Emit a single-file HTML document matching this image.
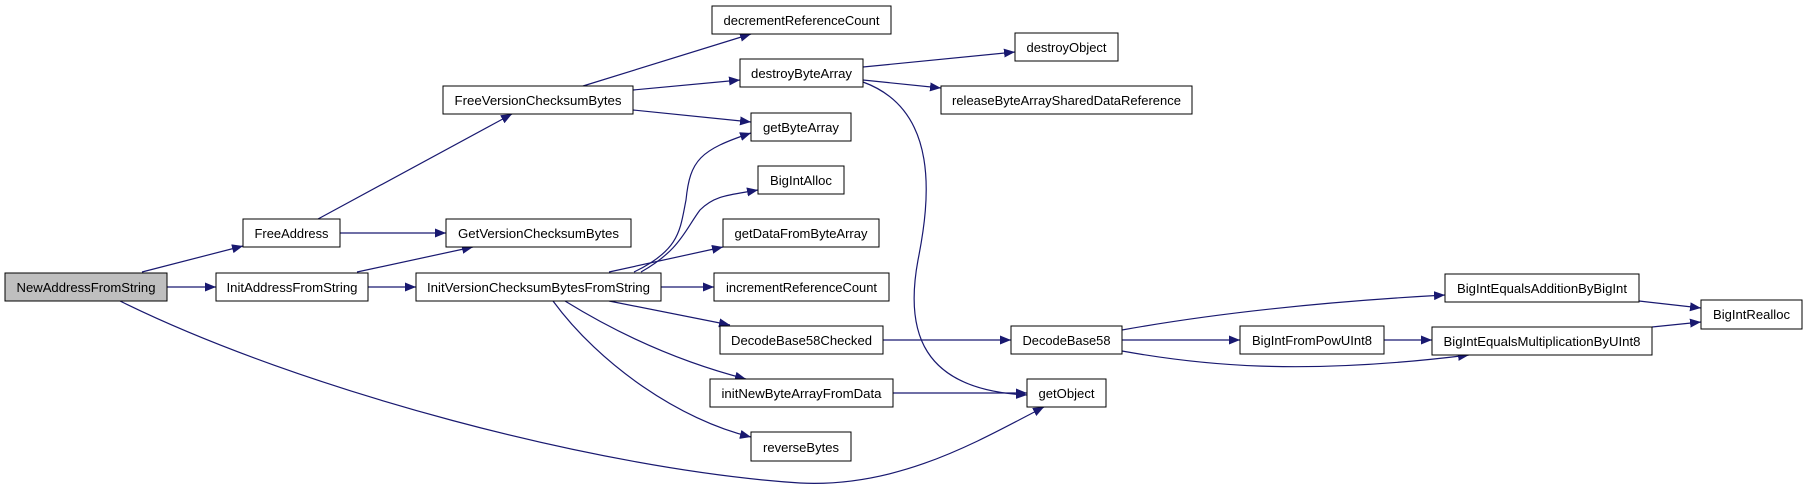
<!DOCTYPE html>
<html><head><meta charset="utf-8"><style>
html,body{margin:0;padding:0;background:#fff;}
svg{display:block;}
text{font-family:"Liberation Sans",sans-serif;font-size:13px;fill:#000;}
</style></head><body>
<svg width="1808" height="490" viewBox="0 0 1808 490" xmlns="http://www.w3.org/2000/svg">
<defs>
<marker id="a" markerUnits="userSpaceOnUse" markerWidth="12" markerHeight="10" refX="11" refY="4.5" orient="auto">
<path d="M0,0 L11,4.5 L0,9 Z" fill="#191970"/>
</marker>
</defs>
<g fill="none" stroke="#191970" stroke-width="1.2" marker-end="url(#a)">
<path d="M142,272 L243,246"/>
<path d="M167,287 L216,287"/>
<path d="M120,301 C300,390 600,470 800,483 C900,488 980,440 1044,407"/>
<path d="M318,219 L512,114"/>
<path d="M340,233 L446,233"/>
<path d="M357,272 L473,247"/>
<path d="M368,287 L416,287"/>
<path d="M583,86 L751,34"/>
<path d="M633,90 L740,80"/>
<path d="M633,110 L751,122"/>
<path d="M863,67 L1015,52"/>
<path d="M863,80 L941,88"/>
<path d="M863,82 C940,110 930,200 918,260 C905,330 920,390 1027,395"/>
<path d="M634,272 C680,250 680,230 686,200 C690,160 700,150 751,133"/>
<path d="M641,272 C680,250 685,230 700,210 C715,195 730,195 758,190"/>
<path d="M609,272 L723,247"/>
<path d="M661,287 L714,287"/>
<path d="M609,301 L730,325"/>
<path d="M565,301 C620,335 680,362 746,379"/>
<path d="M553,301 C600,365 680,420 751,437"/>
<path d="M883,340 L1011,340"/>
<path d="M893,393 L1027,393"/>
<path d="M1122,330 C1200,316 1300,303 1445,295"/>
<path d="M1122,340 L1240,340"/>
<path d="M1122,351 C1200,365 1300,376 1469,355"/>
<path d="M1384,340 L1432,340"/>
<path d="M1639,301 L1701,308"/>
<path d="M1652,327 L1701,322"/>
</g>
<g stroke="#000" stroke-width="1" fill="#fff">
<rect x="5" y="273" width="162" height="28" fill="#bfbfbf"/>
<rect x="243" y="219" width="97" height="28"/>
<rect x="216" y="273" width="152" height="28"/>
<rect x="443" y="86" width="190" height="28"/>
<rect x="446" y="219" width="185" height="28"/>
<rect x="416" y="273" width="245" height="28"/>
<rect x="712" y="6" width="179" height="28"/>
<rect x="740" y="59" width="123" height="28"/>
<rect x="751" y="113" width="100" height="28"/>
<rect x="758" y="166" width="86" height="28"/>
<rect x="723" y="219" width="156" height="28"/>
<rect x="714" y="273" width="175" height="28"/>
<rect x="720" y="326" width="163" height="28"/>
<rect x="710" y="379" width="183" height="28"/>
<rect x="751" y="432" width="100" height="29"/>
<rect x="1015" y="33" width="103" height="28"/>
<rect x="941" y="86" width="251" height="28"/>
<rect x="1011" y="326" width="111" height="28"/>
<rect x="1027" y="379" width="79" height="28"/>
<rect x="1240" y="326" width="144" height="28"/>
<rect x="1445" y="274" width="194" height="28"/>
<rect x="1432" y="327" width="220" height="28"/>
<rect x="1701" y="300" width="101" height="29"/>
</g>
<g text-anchor="middle" lengthAdjust="spacingAndGlyphs">
<text x="86" y="292" textLength="139" lengthAdjust="spacingAndGlyphs">NewAddressFromString</text>
<text x="291.5" y="238" textLength="74" lengthAdjust="spacingAndGlyphs">FreeAddress</text>
<text x="292" y="292" textLength="131" lengthAdjust="spacingAndGlyphs">InitAddressFromString</text>
<text x="538" y="105" textLength="167" lengthAdjust="spacingAndGlyphs">FreeVersionChecksumBytes</text>
<text x="538.5" y="238" textLength="161" lengthAdjust="spacingAndGlyphs">GetVersionChecksumBytes</text>
<text x="538.5" y="292" textLength="223" lengthAdjust="spacingAndGlyphs">InitVersionChecksumBytesFromString</text>
<text x="801.5" y="25" textLength="156" lengthAdjust="spacingAndGlyphs">decrementReferenceCount</text>
<text x="801.5" y="78" textLength="101" lengthAdjust="spacingAndGlyphs">destroyByteArray</text>
<text x="801" y="132" textLength="76" lengthAdjust="spacingAndGlyphs">getByteArray</text>
<text x="801" y="185" textLength="62" lengthAdjust="spacingAndGlyphs">BigIntAlloc</text>
<text x="801" y="238" textLength="133" lengthAdjust="spacingAndGlyphs">getDataFromByteArray</text>
<text x="801.5" y="292" textLength="151" lengthAdjust="spacingAndGlyphs">incrementReferenceCount</text>
<text x="801.5" y="345" textLength="141" lengthAdjust="spacingAndGlyphs">DecodeBase58Checked</text>
<text x="801.5" y="398" textLength="160" lengthAdjust="spacingAndGlyphs">initNewByteArrayFromData</text>
<text x="801" y="452" textLength="76" lengthAdjust="spacingAndGlyphs">reverseBytes</text>
<text x="1066.5" y="52" textLength="80" lengthAdjust="spacingAndGlyphs">destroyObject</text>
<text x="1066.5" y="105" textLength="229" lengthAdjust="spacingAndGlyphs">releaseByteArraySharedDataReference</text>
<text x="1066.5" y="345" textLength="88" lengthAdjust="spacingAndGlyphs">DecodeBase58</text>
<text x="1066.5" y="398" textLength="56" lengthAdjust="spacingAndGlyphs">getObject</text>
<text x="1312" y="345" textLength="120" lengthAdjust="spacingAndGlyphs">BigIntFromPowUInt8</text>
<text x="1542" y="293" textLength="170" lengthAdjust="spacingAndGlyphs">BigIntEqualsAdditionByBigInt</text>
<text x="1542" y="346" textLength="197" lengthAdjust="spacingAndGlyphs">BigIntEqualsMultiplicationByUInt8</text>
<text x="1751.5" y="319" textLength="77" lengthAdjust="spacingAndGlyphs">BigIntRealloc</text>
</g>
</svg>
</body></html>
